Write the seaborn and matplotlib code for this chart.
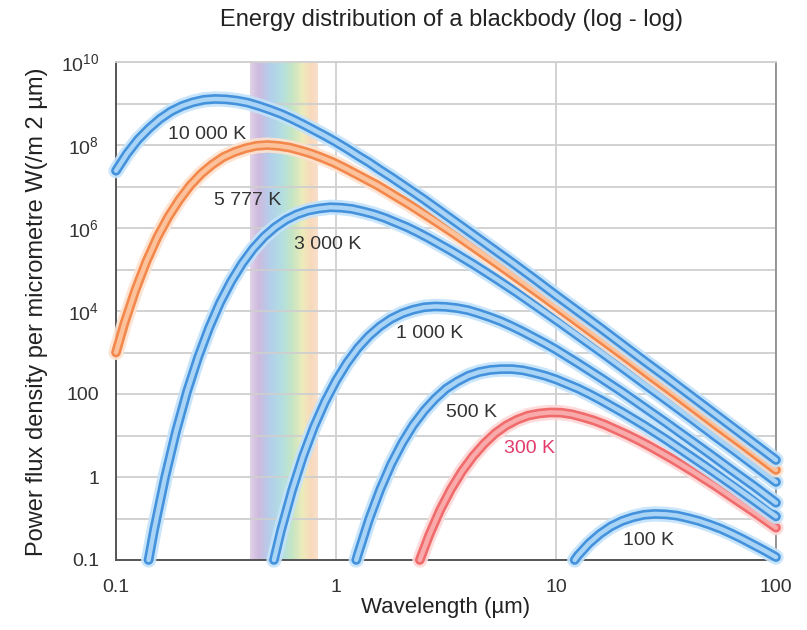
import numpy as np
import pandas as pd
import matplotlib
matplotlib.use("Agg")
import matplotlib.pyplot as plt
import seaborn as sns
from matplotlib.colors import LinearSegmentedColormap
from matplotlib.ticker import FixedLocator, NullLocator, FixedFormatter

# ---------------- data (log10 of wavelength in µm, log10 of flux) ----------------
log_wl_10000 = [-1.0, -0.95, -0.9, -0.85, -0.8, -0.75, -0.7, -0.65, -0.6, -0.55, -0.5, -0.45, -0.4, -0.35, -0.3,
                -0.25, -0.2, -0.15, -0.1, -0.05, 0.0, 0.05, 0.1, 0.15, 0.2, 0.25, 0.3, 0.4, 0.5, 0.6, 0.7, 0.8,
                0.9, 1.0, 1.1, 1.2, 1.3, 1.4, 1.5, 1.6, 1.7, 1.8, 1.9, 2.0]
log_flux_10000 = [7.38, 7.79, 8.13, 8.40, 8.63, 8.81, 8.94, 9.03, 9.09, 9.11, 9.10, 9.07, 9.02, 8.94, 8.85,
                  8.75, 8.63, 8.50, 8.36, 8.22, 8.07, 7.91, 7.74, 7.58, 7.40, 7.23, 7.05, 6.69, 6.31, 5.93,
                  5.55, 5.17, 4.78, 4.38, 3.99, 3.60, 3.20, 2.80, 2.41, 2.01, 1.61, 1.21, 0.81, 0.41]

log_wl_5777 = [-1.0, -0.962, -0.912, -0.862, -0.812, -0.762, -0.712, -0.662, -0.612, -0.562, -0.512, -0.462,
               -0.412, -0.362, -0.312, -0.262, -0.212, -0.162, -0.112, -0.062, -0.012, 0.038, 0.088, 0.138,
               0.188, 0.238, 0.338, 0.438, 0.538, 0.638, 0.738, 0.838, 0.938, 1.038, 1.138, 1.238, 1.338,
               1.438, 1.538, 1.638, 1.738, 1.838, 1.938, 2.0]
log_flux_5777 = [3.00, 3.70, 4.50, 5.19, 5.78, 6.27, 6.68, 7.03, 7.31, 7.53, 7.71, 7.83, 7.92, 7.98, 8.00,
                 7.98, 7.94, 7.87, 7.79, 7.69, 7.58, 7.45, 7.31, 7.17, 7.03, 6.87, 6.55, 6.21, 5.86, 5.49,
                 5.12, 4.74, 4.36, 3.97, 3.58, 3.19, 2.80, 2.40, 2.01, 1.61, 1.21, 0.82, 0.42, 0.17]

log_wl_3000 = [-0.852, -0.827, -0.777, -0.727, -0.677, -0.627, -0.577, -0.527, -0.477, -0.427, -0.377, -0.327,
               -0.277, -0.227, -0.177, -0.127, -0.077, -0.027, 0.023, 0.073, 0.123, 0.173, 0.223, 0.273, 0.323,
               0.373, 0.423, 0.473, 0.523, 0.623, 0.723, 0.823, 0.923, 1.023, 1.123, 1.223, 1.323, 1.423,
               1.523, 1.623, 1.723, 1.823, 1.923, 2.0]
log_flux_3000 = [-2.0, -1.28, -0.01, 1.10, 2.06, 2.88, 3.59, 4.20, 4.71, 5.14, 5.50, 5.79, 6.02, 6.20, 6.33,
                 6.42, 6.47, 6.50, 6.49, 6.46, 6.40, 6.33, 6.24, 6.13, 6.02, 5.89, 5.75, 5.60, 5.45, 5.13,
                 4.79, 4.44, 4.07, 3.70, 3.32, 2.94, 2.55, 2.16, 1.77, 1.38, 0.98, 0.59, 0.19, -0.12]

log_wl_1000 = [-0.282, -0.25, -0.2, -0.15, -0.1, -0.05, 0.0, 0.05, 0.1, 0.15, 0.2, 0.25, 0.3, 0.35, 0.4, 0.45,
               0.5, 0.55, 0.6, 0.65, 0.7, 0.75, 0.8, 0.85, 0.9, 0.95, 1.0, 1.1, 1.2, 1.3, 1.4, 1.5, 1.6, 1.7,
               1.8, 1.9, 2.0]
log_flux_1000 = [-2.0, -1.29, -0.33, 0.50, 1.21, 1.81, 2.32, 2.75, 3.11, 3.40, 3.63, 3.81, 3.94, 4.03, 4.09,
                 4.11, 4.10, 4.07, 4.02, 3.94, 3.85, 3.75, 3.63, 3.50, 3.36, 3.22, 3.07, 2.74, 2.40, 2.05,
                 1.68, 1.31, 0.93, 0.55, 0.16, -0.22, -0.62]

log_wl_500 = [0.092, 0.101, 0.151, 0.201, 0.251, 0.301, 0.351, 0.401, 0.451, 0.501, 0.551, 0.601, 0.651, 0.701,
              0.751, 0.801, 0.851, 0.901, 0.951, 1.001, 1.051, 1.101, 1.151, 1.201, 1.251, 1.301, 1.401, 1.501,
              1.601, 1.701, 1.801, 1.901, 2.0]
log_flux_500 = [-2.0, -1.84, -1.01, -0.30, 0.31, 0.82, 1.25, 1.60, 1.89, 2.13, 2.30, 2.44, 2.53, 2.58, 2.60,
                2.60, 2.57, 2.51, 2.44, 2.35, 2.24, 2.13, 2.00, 1.86, 1.71, 1.56, 1.24, 0.90, 0.54, 0.18,
                -0.19, -0.57, -0.95]

log_wl_300 = [0.381, 0.423, 0.473, 0.523, 0.573, 0.623, 0.673, 0.723, 0.773, 0.823, 0.873, 0.923, 0.973, 1.023,
              1.073, 1.123, 1.173, 1.223, 1.273, 1.323, 1.373, 1.423, 1.473, 1.523, 1.623, 1.723, 1.823, 1.923,
              2.0]
log_flux_300 = [-2.0, -1.41, -0.80, -0.29, 0.14, 0.50, 0.80, 1.05, 1.24, 1.38, 1.48, 1.53, 1.555, 1.55, 1.51,
                1.44, 1.36, 1.26, 1.14, 1.02, 0.89, 0.75, 0.60, 0.45, 0.13, -0.21, -0.57, -0.93, -1.22]

log_wl_100 = [1.085, 1.1, 1.15, 1.2, 1.25, 1.3, 1.35, 1.4, 1.45, 1.5, 1.55, 1.6, 1.65, 1.7, 1.75, 1.8, 1.85,
              1.9, 1.95, 2.0]
log_flux_100 = [-2.0, -1.89, -1.60, -1.37, -1.19, -1.06, -0.97, -0.91, -0.89, -0.90, -0.93, -0.99, -1.06,
                -1.15, -1.25, -1.37, -1.50, -1.64, -1.78, -1.93]

curve_names = ["100 K", "300 K", "500 K", "1 000 K", "3 000 K", "5 777 K", "10 000 K"]
curve_log_wl = [log_wl_100, log_wl_300, log_wl_500, log_wl_1000, log_wl_3000, log_wl_5777, log_wl_10000]
curve_log_flux = [log_flux_100, log_flux_300, log_flux_500, log_flux_1000, log_flux_3000, log_flux_5777,
                  log_flux_10000]
curve_kind = ["blue", "red", "blue", "blue", "blue", "orange", "blue"]

ytick_values = [1e10, 1e9, 1e8, 1e7, 1e6, 1e5, 1e4, 1e3, 1e2, 1e1, 1, 1e-1, 1e-2]
ytick_labels = ["$10^{10}$", "", "$10^{8}$", "", "$10^{6}$", "", "$10^{4}$", "", "100", "", "1", "", "0.1"]
xtick_values = [0.1, 1, 10, 100]
xtick_labels = ["0.1", "1", "10", "100"]

visible_band = (0.407, 0.83)

# ---------------- styling ----------------
sns.set_style("white")
plt.rcParams['font.family'] = ['Liberation Sans', 'DejaVu Sans']
plt.rcParams['mathtext.default'] = 'regular'

palette = {
    "blue":   dict(glow="#c4e3fb", main="#4592dc", core="#a9d4f6"),
    "orange": dict(glow="#fde2cf", main="#f3884c", core="#fcc29c"),
    "red":    dict(glow="#fdd8d8", main="#f06b6b", core="#f9aaaa"),
}
label_pos = {
    "10 000 K": (0.259, 1.8e8), "5 777 K": (0.398, 4.5e6), "3 000 K": (0.92, 3.9e5),
    "1 000 K": (2.67, 2950), "500 K": (4.15, 36.8), "300 K": (7.54, 4.73), "100 K": (26.2, 0.0303),
}

fig = plt.figure(figsize=(8.07, 6.30), dpi=100)
W, H = 807, 630
ax = fig.add_axes([116 / W, 1 - 560 / H, 660 / W, 498 / H])
ax.set_xscale('log')
ax.set_yscale('log')
ax.set_xlim(0.1, 100)
ax.set_ylim(0.01, 1e10)

# visible spectrum band
cmap = LinearSegmentedColormap.from_list("vis", [
    (0.0, "#dccbe4"), (0.12, "#c9b3db"), (0.3, "#a9cbe9"), (0.48, "#acdcdc"),
    (0.62, "#bfe3bd"), (0.78, "#ece9b3"), (0.9, "#f7d5b3"), (1.0, "#f9dcc6")])
N = 80
edges = np.logspace(np.log10(visible_band[0]), np.log10(visible_band[1]), N + 1)
for i in range(N):
    ax.axvspan(edges[i], edges[i + 1], color=cmap(i / (N - 1)), lw=0, zorder=0.2, alpha=0.9)

# curves
for name, lwl, lfl, kind in zip(curve_names, curve_log_wl, curve_log_flux, curve_kind):
    df = pd.DataFrame({"wl": np.power(10.0, lwl), "flux": np.power(10.0, lfl)})
    c = palette[kind]
    for col, lw, alpha in [(c["glow"], 11.0, 0.9), (c["main"], 7.0, 1.0), (c["core"], 3.2, 1.0)]:
        sns.lineplot(data=df, x="wl", y="flux", ax=ax, color=col, linewidth=lw, alpha=alpha,
                     sort=False, estimator=None, legend=False, solid_capstyle='round',
                     solid_joinstyle='round', clip_on=False, zorder=3)

for name in curve_names:
    x, y = label_pos[name]
    ax.text(x, y, name, ha='center', va='center', fontsize=14,
            color="#e23b6c" if name == "300 K" else "#333333", zorder=5)

# axes cosmetics
ax.yaxis.set_major_locator(FixedLocator(ytick_values))
ax.yaxis.set_major_formatter(FixedFormatter(ytick_labels))
ax.yaxis.set_minor_locator(NullLocator())
ax.xaxis.set_major_locator(FixedLocator(xtick_values))
ax.xaxis.set_major_formatter(FixedFormatter(xtick_labels))
minor_x = [m * 10.0 ** k for k in (-1, 0, 1) for m in range(2, 10)]
ax.xaxis.set_minor_locator(FixedLocator(minor_x))

ax.set_axisbelow(True)
ax.grid(True, which='major', axis='both', color="#cfcfcf", linewidth=1.3)
ax.tick_params(axis='y', which='major', direction='out', length=6, width=1.2, color="#666666",
               labelsize=14, labelcolor="#333333", pad=6)
ax.tick_params(axis='x', which='both', direction='out', length=5, width=1.2, color="#666666",
               labelsize=14, labelcolor="#333333", pad=9)
for side, col, lw in [("left", "#555555", 1.4), ("bottom", "#555555", 1.4),
                      ("right", "#888888", 1.2), ("top", "#cfcfcf", 1.3)]:
    ax.spines[side].set_visible(True)
    ax.spines[side].set_color(col)
    ax.spines[side].set_linewidth(lw)
ax.set_xlabel("")
ax.set_ylabel("")

fig.text(452 / W, 1 - 20 / H, "Energy distribution of a blackbody (log - log)", ha='center', va='center',
         fontsize=17, color="#222222")
fig.text(446 / W, 1 - 608 / H, "Wavelength (µm)", ha='center', va='center', fontsize=16, color="#222222")
fig.text(37 / W, 1 - 312 / H, "Power flux density per micrometre W(/m 2 µm)", ha='center', va='center',
         rotation=90, fontsize=17, color="#222222")

fig.savefig("out.png", dpi=100, facecolor="white")
